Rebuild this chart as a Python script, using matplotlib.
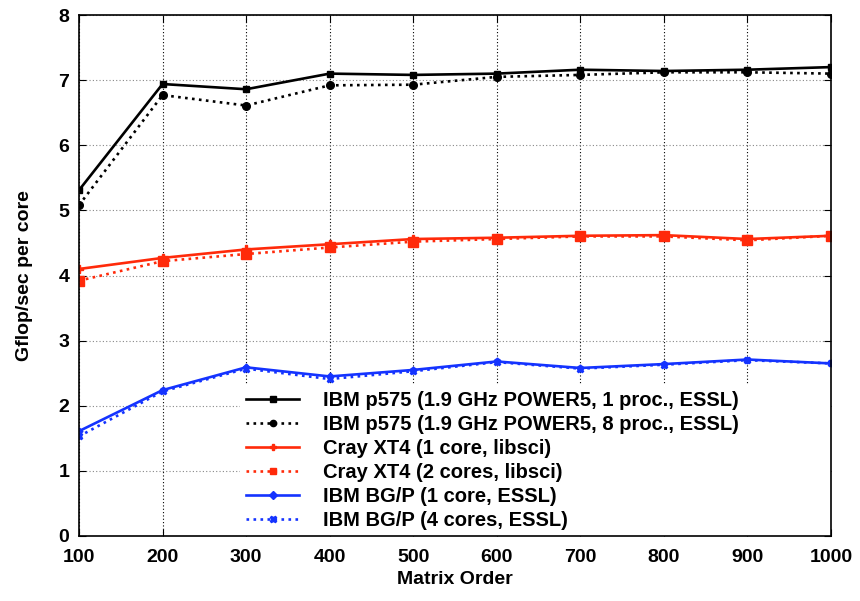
import matplotlib
matplotlib.use("Agg")
import matplotlib.pyplot as plt
from matplotlib.patches import Rectangle

plt.rcParams["font.family"] = ["Liberation Sans", "DejaVu Sans"]
plt.rcParams["font.weight"] = "bold"

matrix_order = [100, 200, 300, 400, 500, 600, 700, 800, 900, 1000]

p575_1proc = [5.31, 6.94, 6.86, 7.10, 7.08, 7.10, 7.16, 7.14, 7.16, 7.20]
p575_8proc = [5.08, 6.77, 6.61, 6.92, 6.93, 7.05, 7.08, 7.12, 7.12, 7.10]
xt4_1core = [4.10, 4.27, 4.40, 4.48, 4.56, 4.58, 4.61, 4.62, 4.56, 4.61]
xt4_2core = [3.92, 4.22, 4.33, 4.43, 4.52, 4.56, 4.60, 4.60, 4.54, 4.61]
bgp_1core = [1.61, 2.24, 2.59, 2.45, 2.55, 2.68, 2.58, 2.64, 2.71, 2.65]
bgp_4core = [1.53, 2.22, 2.57, 2.41, 2.53, 2.67, 2.57, 2.63, 2.70, 2.65]

labels = [
    "IBM p575 (1.9 GHz POWER5, 1 proc., ESSL)",
    "IBM p575 (1.9 GHz POWER5, 8 proc., ESSL)",
    "Cray XT4 (1 core, libsci)",
    "Cray XT4 (2 cores, libsci)",
    "IBM BG/P (1 core, ESSL)",
    "IBM BG/P (4 cores, ESSL)",
]

red = "#ff2a0a"
blue = "#1433ff"
lw = 1.9

fig = plt.figure(figsize=(8.6, 6.01), dpi=100)
ax = fig.add_axes([79 / 860, 65 / 601, 752 / 860, 521 / 601])

ax.plot(matrix_order, p575_1proc, color="black", ls="-", lw=lw, marker="s", ms=4.5, label=labels[0])
ax.plot(matrix_order, p575_8proc, color="black", ls=":", lw=lw, marker="o", ms=5.5, label=labels[1])
ax.plot(matrix_order, xt4_1core, color=red, ls="-", lw=lw, marker="P", ms=5.5, label=labels[2])
ax.plot(matrix_order, xt4_2core, color=red, ls=":", lw=lw, marker="s", ms=6.5, label=labels[3])
ax.plot(matrix_order, bgp_1core, color=blue, ls="-", lw=lw, marker="D", ms=3.5, label=labels[4])
ax.plot(matrix_order, bgp_4core, color=blue, ls=":", lw=lw, marker="X", ms=5, label=labels[5])

# white block behind the legend hides the grid there
ax.add_patch(Rectangle((0.214, 0.0), 0.786, 0.29, transform=ax.transAxes,
                       facecolor="white", edgecolor="none", zorder=1.5))

ax.set_xlim(100, 1000)
ax.set_ylim(0, 8)
ax.set_xticks(matrix_order)
ax.set_yticks(range(0, 9))
ax.tick_params(direction="in", top=True, right=True, labelsize=14, length=5)
ax.tick_params(axis="x", pad=9)
ax.tick_params(axis="y", pad=7)
ax.xaxis.grid(True, color="black", ls=(0, (1, 2)), lw=0.8)
ax.yaxis.grid(True, color="#888888", ls=(0, (1, 2)), lw=0.8)
ax.set_axisbelow(True)
for s in ax.spines.values():
    s.set_linewidth(1.2)
    s.set_zorder(3)

ax.set_xlabel("Matrix Order", fontsize=14, fontweight="bold", labelpad=4)
ax.set_ylabel("Gflop/sec per core", fontsize=14, fontweight="bold", labelpad=18)

leg = ax.legend(
    loc="lower left",
    bbox_to_anchor=(0.222, 0.012),
    fontsize=14.5,
    frameon=False,
    handlelength=2.65,
    handletextpad=1.2,
    labelspacing=0.25,
    borderpad=0.0,
    borderaxespad=0.0,
)
for h in leg.legend_handles:
    h.set_markersize(4.5)

fig.savefig("out.png", dpi=100)
